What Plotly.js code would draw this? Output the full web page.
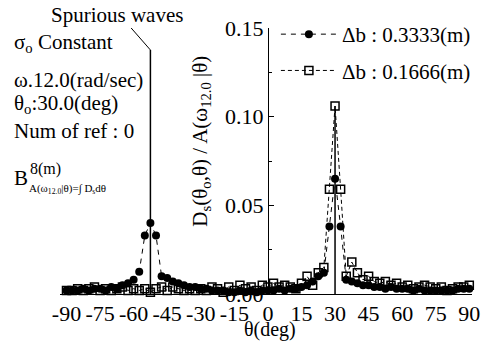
<!DOCTYPE html>
<html>
<head>
<meta charset="utf-8">
<script src="https://cdn.plot.ly/plotly-3.0.1.min.js"></script>
<style>html,body{margin:0;padding:0;background:#fff;}#chart{width:483px;height:341px;}</style>
</head>
<body>
<div id="chart"></div>
<script>
// Direction angle theta (deg)
const theta = [-90,-87.5,-85,-82.5,-80,-77.5,-75,-72.5,-70,-67.5,-65,-62.5,-60,-57.5,-55,-52.5,-50,-47.5,-45,-42.5,-40,-37.5,-35,-32.5,-30,-27.5,-25,-22.5,-20,-17.5,-15,-12.5,-10,-7.5,-5,-2.5,0,2.5,5,7.5,10,12.5,15,17.5,20,22.5,25,27.5,30,32.5,35,37.5,40,42.5,45,47.5,50,52.5,55,57.5,60,62.5,65,67.5,70,72.5,75,77.5,80,82.5,85,87.5,90];
// Series: db = 0.3333 m (filled circles)
const dsCoarse = [0.002,0.002,0.002,0.003,0.002,0.003,0.003,0.002,0.004,0.003,0.005,0.006,0.008,0.0125,0.033,0.040,0.033,0.010,0.009,0.007,0.006,0.005,0.004,0.004,0.003,0.003,0.002,0.002,0.002,0.001,0.001,0.002,0.001,0.002,0.001,0.002,0.002,0.002,0.003,0.002,0.003,0.003,0.004,0.005,0.007,0.010,0.012,0.038,0.065,0.038,0.008,0.007,0.006,0.005,0.005,0.004,0.004,0.003,0.004,0.003,0.003,0.003,0.002,0.003,0.002,0.002,0.002,0.002,0.002,0.002,0.003,0.003,0.003];
// Series: db = 0.1666 m (open squares)
const dsFine = [0.002,0.002,0.003,0.002,0.003,0.004,0.002,0.003,0.002,0.003,0.004,0.002,0.003,0.002,0.003,0.001,0.003,0.004,0.002,0.004,0.003,0.002,0.003,0.002,0.003,0.002,0.004,0.003,0.001,0.004,0.002,0.005,0.003,0.004,0.002,0.005,0.004,0.006,0.004,0.005,0.004,0.003,0.006,0.010,0.005,0.012,0.015,0.059,0.106,0.059,0.010,0.018,0.012,0.008,0.010,0.007,0.006,0.007,0.005,0.006,0.004,0.005,0.003,0.004,0.005,0.004,0.003,0.004,0.002,0.003,0.004,0.004,0.005];
const seriesNames = ["Δb : 0.3333(m)", "Δb : 0.1666(m)"];
const xTicks = [-90,-75,-60,-45,-30,-15,0,15,30,45,60,75,90];
const yTicks = [0,0.05,0.10,0.15];
const yTickText = ["0.00","0.05","0.10","0.15"];
const peakTheta = 30;
const peakValue = 0.106;
const spuriousTheta = -52.5;

// layout geometry (pixels)
const L = 60, R = 7, T = 28, B = 47, W = 483, H = 341;
const PW = W - L - R, PH = H - T - B;
const px = p => (p - L) / PW;
const py = p => (H - B - p) / PH;

const serif = "'Liberation Serif'";

const traces = [
  {x: theta, y: dsCoarse, name: seriesNames[0], type: 'scatter', mode: 'lines+markers',
   legendgroup: 'a', cliponaxis: false,
   line: {color: '#000', width: 1, dash: '5px,5px'},
   marker: {symbol: 'circle', size: 8, color: '#000'}},
  {x: theta, y: dsFine, name: seriesNames[1], type: 'scatter', mode: 'lines+markers',
   legendgroup: 'b', cliponaxis: false,
   line: {color: '#000', width: 1, dash: '4px,3px'},
   marker: {symbol: 'square-open', size: 8, color: '#000', line: {width: 1.5, color: '#000'}}}
];

const annFont = {family: serif, size: 21, color: '#000'};
const leftText = (txt, y, size) => ({xref: 'paper', yref: 'paper', x: px(12), y: py(y), xanchor: 'left', yanchor: 'middle',
  text: txt, showarrow: false, font: {family: serif, size: size || 21, color: '#000'}});

const layout = {
  width: W, height: H,
  font: {family: serif, color: '#000'},
  margin: {l: L, r: R, t: T, b: B, pad: 0},
  paper_bgcolor: '#fff', plot_bgcolor: '#fff',
  showlegend: true,
  legend: {x: px(278), y: py(14), xanchor: 'left', yanchor: 'top', bgcolor: 'rgba(0,0,0,0)',
    itemwidth: 56,
    font: {family: serif, size: 21, color: '#000'}, tracegroupgap: 6, traceorder: 'grouped'},
  xaxis: {range: [-92.9, 91.2], tickvals: xTicks, ticktext: xTicks.map(String), ticks: '',
    tickangle: 0, showgrid: false, zeroline: false, showline: true, linecolor: '#000', linewidth: 1,
    ticklabeloverflow: 'allow',
    tickfont: {family: serif, size: 22, color: '#000'}},
  yaxis: {range: [0, 0.15], anchor: 'free', position: px(270), tickvals: yTicks, ticktext: yTickText,
    ticks: 'inside', ticklen: 5, tickcolor: '#000', showgrid: false, zeroline: false,
    showline: true, linecolor: '#000', linewidth: 1.5,
    minor: {ticks: 'inside', ticklen: 3, dtick: 0.025, tickcolor: '#000'},
    tickfont: {family: serif, size: 22, color: '#000'}},
  shapes: [
    {type: 'line', xref: 'x', yref: 'y', x0: peakTheta, x1: peakTheta, y0: 0, y1: peakValue,
     line: {color: '#000', width: 1.5}},
    {type: 'line', xref: 'x', yref: 'y', x0: spuriousTheta, x1: spuriousTheta, y0: 0, y1: 0.1376,
     line: {color: '#000', width: 1.5}},
    {type: 'line', xref: 'x', yref: 'y', x0: spuriousTheta, x1: -61.1, y0: 0.1376, y1: 0.150,
     line: {color: '#000', width: 1}}
  ],
  annotations: [
    {xref: 'paper', yref: 'paper', x: px(118), y: py(15), xanchor: 'center', yanchor: 'middle',
     text: 'Spurious waves', showarrow: false, font: annFont},
    leftText('σ<sub>o</sub> Constant', 43),
    leftText('ω.12.0(rad/sec)', 80),
    leftText('θ<sub>o</sub>:30.0(deg)', 104),
    leftText('Num of ref : 0', 131),
    leftText('B', 178),
    {xref: 'paper', yref: 'paper', x: px(28), y: py(169), xanchor: 'left', yanchor: 'middle',
     text: '8(m)', showarrow: false, font: {family: serif, size: 16, color: '#000'}},
    {xref: 'paper', yref: 'paper', x: px(27), y: py(189), xanchor: 'left', yanchor: 'middle',
     text: 'A(ω<sub>12.0</sub>|θ)=∫ D<sub>s</sub>dθ', showarrow: false, font: {family: serif, size: 11, color: '#000'}},
    {xref: 'paper', yref: 'paper', x: px(202), y: py(141), xanchor: 'center', yanchor: 'middle', textangle: -90,
     text: 'D<sub>s</sub>(θ<sub>o</sub>,θ) / A(ω<sub>12.0</sub> |θ)', showarrow: false, font: annFont},
    {xref: 'paper', yref: 'paper', x: px(272), y: py(329), xanchor: 'center', yanchor: 'middle',
     text: 'θ(deg)', showarrow: false, font: {family: serif, size: 20, color: '#000'}}
  ]
};

Plotly.newPlot('chart', traces, layout, {displayModeBar: false, staticPlot: true});
</script>
</body>
</html>
